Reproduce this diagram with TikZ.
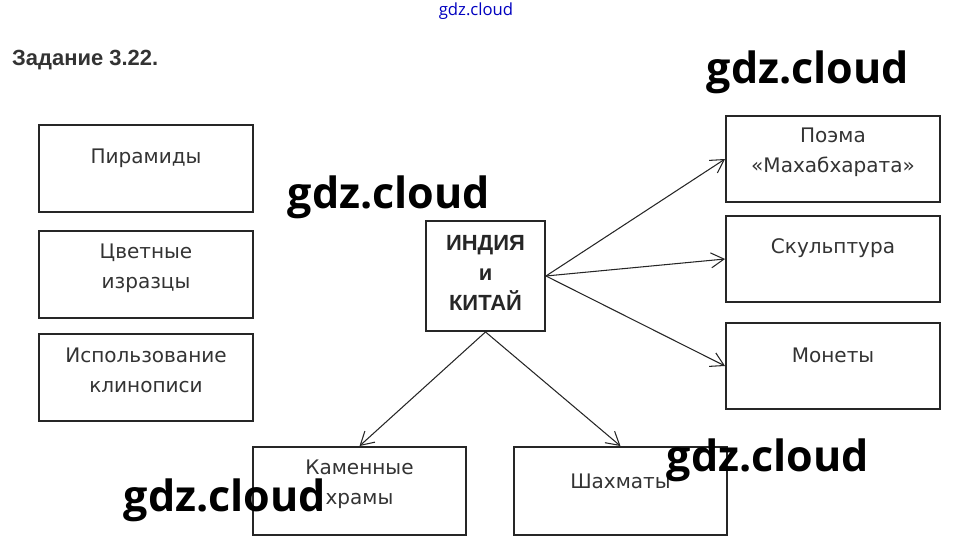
\documentclass[tikz,border=0pt]{standalone}
\usepackage{fontspec}
\setmainfont{DejaVu Sans}
\newfontfamily\headfont{Liberation Sans}
\newfontfamily\wmfont{Open Sans}
\usetikzlibrary{arrows.meta}

\tikzset{
  box/.style={draw=black!85, line width=1.1pt, minimum width=4.28cm, minimum height=1.74cm},
  txt/.style={text=black!80, align=center, font=\fontsize{11.4}{17}\selectfont},
  arr/.style={-{Straight Barb[length=2.6mm,width=3mm]}, line width=0.6pt, draw=black!85},
  wm/.style={font=\wmfont\bfseries\fontsize{24.5}{28}\selectfont}
}

\begin{document}
\begin{tikzpicture}[x=0.02cm,y=-0.02cm]
  \useasboundingbox (0,0) rectangle (953,553);
  \node[anchor=west, text=black!80, font=\headfont\bfseries\fontsize{12.5}{15}\selectfont] (title) at (6,60) {Задание 3.22.};

  \node[box] (pyr) at (146,168.5) {};
  \node[txt] (pyr-t) at (146,158) {Пирамиды};
  \node[box] (tiles) at (146,274.5) {};
  \node[txt] (tiles-t) at (146,268) {Цветные\\изразцы};
  \node[box] (cune) at (146,377.5) {};
  \node[txt] (cune-t) at (146,370) {Использование\\клинописи};

  \node[box, minimum width=2.38cm, minimum height=2.2cm] (ic) at (485.5,276) {};
  \node[align=center, text=black!85, font=\headfont\bfseries\fontsize{12.5}{17}\selectfont] (ic-t) at (485.5,273) {ИНДИЯ\\и\\КИТАЙ};

  \node[box, minimum height=1.72cm] (poem) at (833,159) {};
  \node[txt] (poem-t) at (833,152) {Поэма\\«Махабхарата»};
  \node[box, minimum height=1.72cm] (sculpt) at (833,259) {};
  \node[txt] (sculpt-t) at (833,248) {Скульптура};
  \node[box, minimum height=1.72cm] (coins) at (833,366) {};
  \node[txt] (coins-t) at (833,355) {Монеты};

  \node[box, minimum width=4.26cm, minimum height=1.76cm] (temples) at (359.5,491) {};
  \node[txt] (temples-t) at (359.5,484) {Каменные\\храмы};
  \node[box, minimum width=4.26cm, minimum height=1.76cm] (chess) at (620.5,491) {};
  \node[txt] (chess-t) at (620.5,481) {Шахматы};

  \draw[arr] (ic.east) -- (poem.west);
  \draw[arr] (ic.east) -- (sculpt.west);
  \draw[arr] (ic.east) -- (coins.west);
  \draw[arr] (ic.south) -- (temples.north);
  \draw[arr] (ic.south) -- (chess.north);

  \node[text=blue!75!black, font=\wmfont\fontsize{9.5}{11}\selectfont] (wm0) at (476,11) {gdz.cloud};
  \node[wm] (wm1) at (808,72) {gdz.cloud};
  \node[wm] (wm2) at (389,197) {gdz.cloud};
  \node[wm] (wm3) at (768,460) {gdz.cloud};
  \node[wm] (wm4) at (225,500) {gdz.cloud};
\end{tikzpicture}
\end{document}
